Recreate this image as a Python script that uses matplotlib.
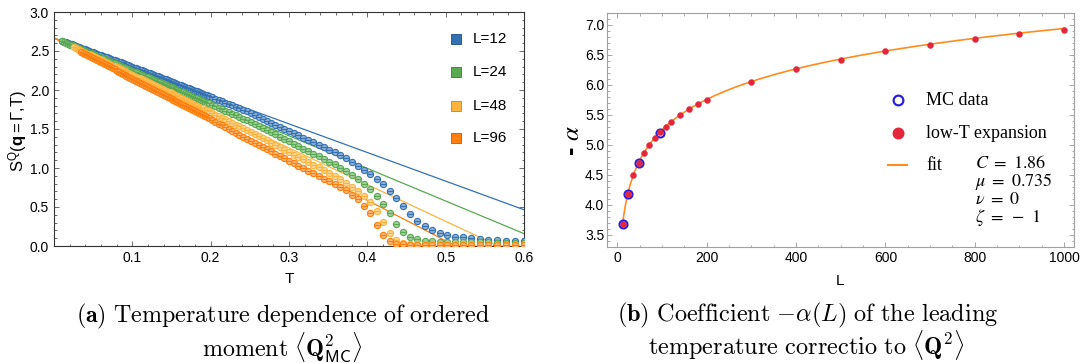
import numpy as np
import matplotlib
matplotlib.use("Agg")
import matplotlib.pyplot as plt
from matplotlib.ticker import MultipleLocator, FixedLocator, FormatStrFormatter

plt.rcParams['font.family'] = ['Liberation Sans', 'DejaVu Sans']
plt.rcParams['mathtext.fontset'] = 'custom'
plt.rcParams['mathtext.rm'] = 'Liberation Sans'
plt.rcParams['mathtext.it'] = 'Liberation Sans:italic'
plt.rcParams['mathtext.bf'] = 'Liberation Sans:bold'
plt.rcParams['mathtext.sf'] = 'Liberation Sans'

# ---------------- data: ordered moment vs temperature ----------------
S0 = 8.0 / 3.0   # T = 0 value of the structure factor

T_grid = [0.0100, 0.0125, 0.0150, 0.0175, 0.0200, 0.0225, 0.0250, 0.0275, 0.0300, 0.0325,
          0.0350, 0.0375, 0.0400, 0.0425, 0.0450, 0.0475, 0.0500, 0.0525, 0.0550, 0.0575,
          0.0600, 0.0625, 0.0650, 0.0675, 0.0700, 0.0725, 0.0750, 0.0775, 0.0800, 0.0825,
          0.0850, 0.0875, 0.0900, 0.0925, 0.0950, 0.0975, 0.1000, 0.1025, 0.1050, 0.1075,
          0.1100, 0.1125, 0.1150, 0.1175, 0.1200, 0.1225, 0.1250, 0.1275, 0.1300, 0.1325,
          0.1350, 0.1375, 0.1400, 0.1425, 0.1450, 0.1475, 0.1500, 0.1525, 0.1550, 0.1575,
          0.1600, 0.1625, 0.1650, 0.1675, 0.1700, 0.1725, 0.1750, 0.1775, 0.1800, 0.1825,
          0.1850, 0.1875, 0.1900, 0.1925, 0.1950, 0.1975,
          0.2019, 0.2059, 0.2101, 0.2143, 0.2185, 0.2229, 0.2274, 0.2319, 0.2366, 0.2413,
          0.2461, 0.2510, 0.2561, 0.2612, 0.2664, 0.2717, 0.2772, 0.2827, 0.2884, 0.2941,
          0.3000, 0.3060, 0.3121, 0.3184, 0.3247, 0.3312, 0.3379, 0.3446, 0.3515, 0.3585,
          0.3657, 0.3730, 0.3805, 0.3881, 0.3959, 0.4038, 0.4119, 0.4201, 0.4285, 0.4371,
          0.4458, 0.4547, 0.4638, 0.4731, 0.4826, 0.4922, 0.5021, 0.5121, 0.5223, 0.5328,
          0.5434, 0.5543, 0.5654, 0.5767, 0.5882, 0.6000]

S_L12 = [2.630, 2.621, 2.612, 2.603, 2.593, 2.584, 2.575, 2.566, 2.556, 2.547,
         2.538, 2.529, 2.520, 2.511, 2.501, 2.492, 2.483, 2.474, 2.464, 2.455,
         2.446, 2.437, 2.427, 2.418, 2.409, 2.400, 2.390, 2.381, 2.372, 2.363,
         2.353, 2.344, 2.335, 2.326, 2.316, 2.307, 2.297, 2.288, 2.278, 2.269,
         2.260, 2.251, 2.241, 2.232, 2.222, 2.213, 2.203, 2.194, 2.184, 2.175,
         2.165, 2.156, 2.146, 2.137, 2.127, 2.118, 2.108, 2.098, 2.088, 2.079,
         2.069, 2.060, 2.050, 2.040, 2.030, 2.021, 2.011, 2.001, 1.991, 1.982,
         1.972, 1.962, 1.952, 1.942, 1.932, 1.922,
         1.905, 1.889, 1.872, 1.855, 1.838, 1.821, 1.802, 1.784, 1.764, 1.745,
         1.725, 1.705, 1.681, 1.657, 1.633, 1.608, 1.582, 1.556, 1.530, 1.503,
         1.476, 1.448, 1.419, 1.390, 1.360, 1.330, 1.299, 1.271, 1.237, 1.201,
         1.165, 1.122, 1.074, 1.027, 0.976, 0.923, 0.865, 0.790, 0.709, 0.613,
         0.511, 0.410, 0.320, 0.260, 0.210, 0.170, 0.143, 0.121, 0.109, 0.098,
         0.089, 0.081, 0.074, 0.069, 0.064, 0.060]

S_L24 = [2.625, 2.615, 2.604, 2.594, 2.583, 2.573, 2.562, 2.552, 2.541, 2.531,
         2.520, 2.510, 2.499, 2.489, 2.478, 2.468, 2.457, 2.447, 2.436, 2.426,
         2.415, 2.405, 2.394, 2.384, 2.373, 2.363, 2.352, 2.342, 2.331, 2.321,
         2.310, 2.299, 2.288, 2.278, 2.267, 2.257, 2.246, 2.236, 2.225, 2.215,
         2.204, 2.193, 2.182, 2.172, 2.161, 2.151, 2.140, 2.130, 2.119, 2.108,
         2.097, 2.087, 2.076, 2.065, 2.054, 2.044, 2.033, 2.022, 2.011, 2.001,
         1.990, 1.979, 1.968, 1.958, 1.947, 1.936, 1.925, 1.914, 1.903, 1.893,
         1.882, 1.871, 1.860, 1.849, 1.838, 1.827,
         1.808, 1.790, 1.771, 1.753, 1.734, 1.715, 1.695, 1.675, 1.654, 1.634,
         1.612, 1.590, 1.565, 1.538, 1.512, 1.486, 1.458, 1.430, 1.401, 1.372,
         1.343, 1.313, 1.282, 1.250, 1.218, 1.185, 1.151, 1.118, 1.082, 1.045,
         1.001, 0.957, 0.907, 0.856, 0.798, 0.725, 0.643, 0.541, 0.420, 0.283,
         0.180, 0.117, 0.085, 0.068, 0.060, 0.056, 0.053, 0.051, 0.049, 0.047,
         0.046, 0.045, 0.044, 0.043, 0.042, 0.041]

S_L48 = [2.549, 2.538, 2.526, 2.514, 2.502, 2.491, 2.479, 2.467, 2.455, 2.443,
         2.431, 2.420, 2.408, 2.396, 2.384, 2.373, 2.361, 2.349, 2.337, 2.325,
         2.313, 2.302, 2.290, 2.278, 2.266, 2.254, 2.242, 2.231, 2.219, 2.207,
         2.195, 2.183, 2.171, 2.160, 2.148, 2.136, 2.124, 2.112, 2.100, 2.088,
         2.076, 2.064, 2.052, 2.040, 2.028, 2.016, 2.004, 1.992, 1.980, 1.968,
         1.956, 1.944, 1.932, 1.920, 1.908, 1.896, 1.884, 1.872, 1.860, 1.848,
         1.836, 1.823, 1.811, 1.799, 1.787, 1.775, 1.763, 1.750, 1.738, 1.726,
         1.705, 1.685, 1.664, 1.644, 1.623, 1.601, 1.579, 1.557, 1.534, 1.511,
         1.486, 1.462, 1.435, 1.408, 1.381, 1.353, 1.324, 1.295, 1.265, 1.235,
         1.205, 1.173, 1.142, 1.109, 1.077, 1.043, 1.009, 0.975, 0.940, 0.903,
         0.860, 0.811, 0.758, 0.703, 0.639, 0.564, 0.455, 0.310, 0.166, 0.075,
         0.040, 0.030, 0.027, 0.025, 0.024, 0.023, 0.022, 0.021, 0.020, 0.020,
         0.019, 0.019, 0.018, 0.018, 0.017, 0.017]

S_L96 = [2.485, 2.472, 2.459, 2.446, 2.433, 2.420, 2.407, 2.394, 2.381, 2.368,
         2.355, 2.342, 2.329, 2.316, 2.303, 2.290, 2.277, 2.264, 2.250, 2.237,
         2.224, 2.211, 2.198, 2.185, 2.172, 2.159, 2.146, 2.133, 2.120, 2.107,
         2.094, 2.081, 2.068, 2.055, 2.042, 2.029, 2.015, 2.002, 1.989, 1.976,
         1.963, 1.950, 1.937, 1.924, 1.911, 1.898, 1.885, 1.872, 1.858, 1.845,
         1.832, 1.819, 1.806, 1.793, 1.780, 1.767, 1.753, 1.740, 1.727, 1.714,
         1.701, 1.688, 1.674, 1.661, 1.648, 1.635,
         1.612, 1.590, 1.568, 1.546, 1.524, 1.501, 1.476, 1.453, 1.428, 1.403,
         1.377, 1.351, 1.324, 1.297, 1.269, 1.242, 1.213, 1.184, 1.154, 1.123,
         1.093, 1.061, 1.029, 0.996, 0.963, 0.930, 0.895, 0.861, 0.830, 0.800,
         0.762, 0.713, 0.660, 0.600, 0.513, 0.420, 0.270, 0.145, 0.065, 0.030,
         0.020, 0.016, 0.014, 0.013, 0.012, 0.012, 0.011, 0.011, 0.010, 0.010,
         0.010, 0.009, 0.009, 0.009, 0.008, 0.008]

series_labels = ["L=12", "L=24", "L=48", "L=96"]
series_colors = ["#3471B3", "#58A951", "#FDB43F", "#FF7F0E"]
series_S = [S_L12, S_L24, S_L48, S_L96]

# ---------------- data: coefficient -alpha(L) ----------------
L_mc = [12, 24, 48, 96]
alpha_mc = [3.67, 4.18, 4.70, 5.20]

L_lowT = [12, 24, 36, 48, 60, 72, 84, 96, 108, 120, 140, 160, 180, 200,
          300, 400, 500, 600, 700, 800, 900, 1000]
alpha_lowT = [3.67, 4.18, 4.49, 4.69, 4.86, 5.00, 5.11, 5.21, 5.29, 5.38, 5.49,
              5.59, 5.68, 5.75, 6.05, 6.26, 6.42, 6.56, 6.67, 6.76, 6.84, 6.92]

fit_C, fit_mu, fit_nu, fit_zeta = 1.86, 0.735, 0.0, -1.0

W, H = 1084, 363
fig = plt.figure(figsize=(W / 100, H / 100), dpi=100)
axL = fig.add_axes([54 / W, 1 - 246 / H, 470 / W, 234 / H])
axR = fig.add_axes([607 / W, 1 - 247 / H, 467 / W, 234 / H])


def lighten(c, f=0.5):
    r, g, b = matplotlib.colors.to_rgb(c)
    return (r + (1 - r) * f, g + (1 - g) * f, b + (1 - b) * f)


def darken(c, f=0.8):
    r, g, b = matplotlib.colors.to_rgb(c)
    return (r * f, g * f, b * f)


# ---------------- left panel ----------------
T_line = np.array([0.0, 0.6])
for a, col in zip(alpha_mc, series_colors):
    axL.plot(T_line, S0 - a * T_line, color=col, lw=0.9, zorder=2)

for S, col in zip(series_S, series_colors):
    T = T_grid[-len(S):]
    axL.plot(T, S, ls='none', marker='o', ms=4.5, mfc=lighten(col, 0.45),
             mec=col, mew=0.8, zorder=3)
    axL.plot(T, S, ls='none', marker='_', ms=4.5, mec=col, mew=0.8, zorder=3)

axL.set_xlim(0, 0.6)
axL.set_ylim(0, 3.0)
axL.xaxis.set_major_locator(FixedLocator([0.1, 0.2, 0.3, 0.4, 0.5, 0.6]))
axL.xaxis.set_minor_locator(MultipleLocator(0.02))
axL.yaxis.set_major_locator(MultipleLocator(0.5))
axL.yaxis.set_minor_locator(MultipleLocator(0.1))
axL.xaxis.set_major_formatter(FormatStrFormatter('%.1f'))
axL.yaxis.set_major_formatter(FormatStrFormatter('%.1f'))
axL.tick_params(which='both', direction='in', top=True, right=True,
                color='#555555', width=0.6, labelsize=10, pad=3.5)
axL.tick_params(which='major', length=3.5)
axL.tick_params(which='minor', length=1.8)
for sp in axL.spines.values():
    sp.set_color('#333333')
    sp.set_linewidth(0.8)

leg_y = [0.885, 0.744, 0.598, 0.462]
for lab, col, yy in zip(series_labels, series_colors, leg_y):
    axL.plot([0.855], [yy], marker='s', ms=7.2, mfc=col, mec=darken(col),
             mew=0.7, transform=axL.transAxes, clip_on=False)
    axL.text(0.891, yy, lab, transform=axL.transAxes, va='center', ha='left',
             fontsize=11)

fig.text(18 / W, 1 - 131 / H,
         r'$\mathrm{S}^{\mathrm{Q}}\mathrm{(}\mathbf{q}{=}\mathrm{\Gamma{,}T)}$',
         rotation=90, ha='center', va='center', fontsize=12, math_fontfamily='custom')
fig.text(289 / W, 1 - 279 / H, 'T', ha='center', va='center', fontsize=11)

# ---------------- right panel ----------------
mc_blue = '#2A1FE0'
red = '#E3263C'
fit_orange = '#FF8C1E'

L_fit = np.linspace(12, 1000, 500)
axR.plot(L_fit, fit_C + fit_mu * np.log(L_fit) + fit_nu * L_fit ** fit_zeta,
         color=fit_orange, lw=1.2, zorder=2)
axR.plot(L_mc, alpha_mc, ls='none', marker='o', ms=5.8, mfc='none', mec=mc_blue,
         mew=1.5, zorder=3)
axR.plot(L_lowT, alpha_lowT, ls='none', marker='o', ms=4.3, mfc=red, mec=red,
         mew=0.3, zorder=4)

axR.set_xlim(-23, 1022)
axR.set_ylim(3.295, 7.195)
axR.xaxis.set_major_locator(MultipleLocator(200))
axR.xaxis.set_minor_locator(MultipleLocator(50))
axR.yaxis.set_major_locator(FixedLocator([3.5, 4.0, 4.5, 5.0, 5.5, 6.0, 6.5, 7.0]))
axR.yaxis.set_minor_locator(MultipleLocator(0.1))
axR.yaxis.set_major_formatter(FormatStrFormatter('%.1f'))
axR.tick_params(which='both', direction='in', top=True, right=True,
                color='#9a9a9a', width=0.6, labelsize=10)
axR.tick_params(axis='y', pad=2)
axR.tick_params(axis='x', pad=3)
axR.tick_params(which='major', length=3.5)
axR.tick_params(which='minor', length=1.8)
for sp in axR.spines.values():
    sp.set_color('#a0a0a0')
    sp.set_linewidth(0.8)

tr = axR.transAxes
axR.plot([0.624], [0.628], marker='o', ms=7.0, mfc='white', mec=mc_blue, mew=1.6,
         transform=tr, clip_on=False)
axR.plot([0.624], [0.487], marker='o', ms=7.6, mfc=red, mec=red, transform=tr,
         clip_on=False)
axR.plot([0.602, 0.642], [0.350, 0.350], color=fit_orange, lw=1.5, transform=tr,
         clip_on=False)
for txt, yy in zip(['MC data', 'low-T expansion', 'fit'], [0.628, 0.487, 0.350]):
    axR.text(0.683, yy, txt, transform=tr, va='center', ha='left', fontsize=13,
             family='Liberation Serif')
params = [r'$C\ =\ %.2f$' % fit_C, r'$\mu\ =\ %.3f$' % fit_mu,
          r'$\nu\ =\ %d$' % fit_nu, r'$\zeta\ =\ -\ %d$' % abs(fit_zeta)]
for txt, yy in zip(params, [0.355, 0.278, 0.201, 0.124]):
    axR.text(0.788, yy, txt, transform=tr, va='center', ha='left', fontsize=13,
             math_fontfamily='stix')

fig.text(572 / W, 1 - 141 / H, r'- $\alpha$', rotation=90, ha='center',
         va='center', fontsize=18, fontweight='bold', math_fontfamily='stix')
fig.text(840 / W, 1 - 281 / H, 'L', ha='center', va='center', fontsize=11)

# ---------------- captions ----------------
fig.text(283 / W, 1 - 322 / H,
         r'$\mathbf{(a)}\ \mathrm{Temperature\ dependence\ of\ ordered}$',
         ha='center', va='baseline', fontsize=17.3, math_fontfamily='cm')
fig.text(282 / W, 1 - 356 / H,
         r'$\mathrm{moment}\ \langle \mathbf{Q}^{2}_{\mathsf{MC}} \rangle$',
         ha='center', va='baseline', fontsize=17.3, math_fontfamily='cm')
fig.text(808 / W, 1 - 321 / H,
         r'$\mathbf{(b)}\ \mathrm{Coefficient}\ {-}\alpha(L)\ \mathrm{of\ the\ leading}$',
         ha='center', va='baseline', fontsize=17.5, math_fontfamily='cm')
fig.text(806 / W, 1 - 354 / H,
         r'$\mathrm{temperature\ correctio\ to}\ \langle \mathbf{Q}^{2} \rangle$',
         ha='center', va='baseline', fontsize=17.5, math_fontfamily='cm')

fig.savefig('out.png', dpi=100)
